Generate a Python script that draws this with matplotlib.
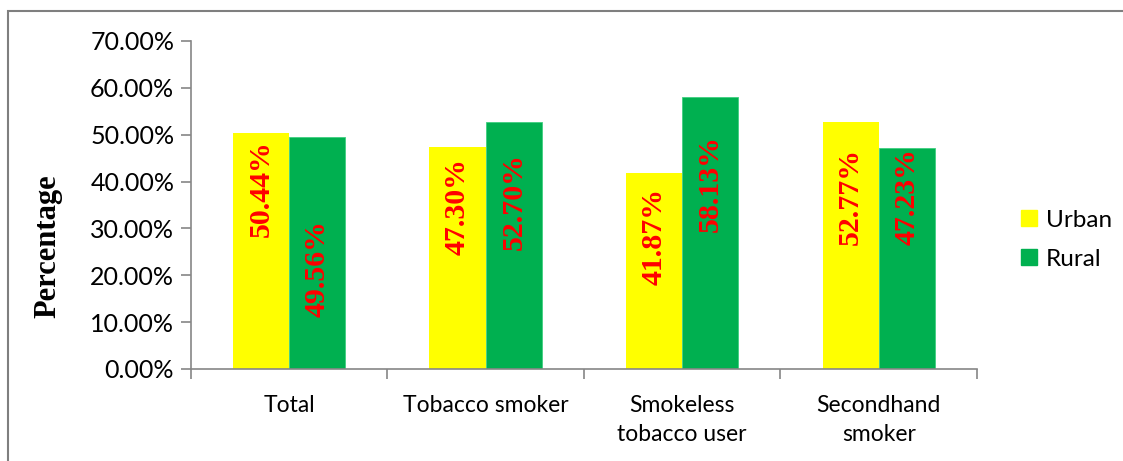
import matplotlib.pyplot as plt
from matplotlib.patches import Patch, Rectangle
import numpy as np

categories = ['Total', 'Tobacco smoker', 'Smokeless\ntobacco user', 'Secondhand\nsmoker']
urban = [50.44, 47.30, 41.87, 52.77]
rural = [49.56, 52.70, 58.13, 47.23]
series_names = ['Urban', 'Rural']
yticks = [0, 10, 20, 30, 40, 50, 60, 70]

# where the top of each (rotated) value label sits, data units, as placed in the original
urban_label_top = [48.9, 45.0, 38.6, 47.2]
rural_label_top = [31.8, 46.1, 49.9, 47.2]

YELLOW = '#FFFF00'
GREEN = '#00B050'
GRAY = '#868686'

fig = plt.figure(figsize=(11.23, 4.61), dpi=100)
ax = fig.add_axes([0.170, 0.1996, 0.700, 0.7115])

x = np.arange(len(categories))
w = 0.286
ax.bar(x - w / 2, urban, w, color=YELLOW, edgecolor='none')
ax.bar(x + w / 2, rural, w, color=GREEN, edgecolor='#3fcf80', linewidth=0.6)

lab_font = dict(family='Liberation Serif', weight='bold', size=21.5, color='red',
                rotation=90, ha='center', va='top')
for i in range(len(categories)):
    ax.text(x[i] - w / 2, urban_label_top[i], '%.2f%%' % urban[i], **lab_font)
    ax.text(x[i] + w / 2, rural_label_top[i], '%.2f%%' % rural[i], **lab_font)

ax.set_xlim(-0.5, len(categories) - 0.5)
ax.set_ylim(0, 70)
ax.set_yticks(yticks)
ax.set_yticklabels(['%.2f%%' % t for t in yticks], family='Lato', fontsize=18)
ax.tick_params(axis='y', length=7, width=1.2, color=GRAY, pad=5)

# boundaries as major ticks, names as minor ticks
ax.set_xticks(np.arange(len(categories) + 1) - 0.5)
ax.set_xticklabels([])
ax.tick_params(axis='x', which='major', length=7, width=1.2, color=GRAY)
ax.set_xticks(x, minor=True)
ax.set_xticklabels(categories, minor=True, family='Lato', fontsize=16.5, linespacing=1.45)
ax.tick_params(axis='x', which='minor', length=0, pad=19)

for s in ['top', 'right']:
    ax.spines[s].set_visible(False)
for s in ['left', 'bottom']:
    ax.spines[s].set_color(GRAY)
    ax.spines[s].set_linewidth(1.2)

fig.text(0.043, 0.465, 'Percentage', rotation=90, ha='center', va='center',
         family='Liberation Serif', weight='bold', fontsize=22)

handles = [Patch(color=YELLOW), Patch(color=GREEN)]
fig.legend(handles, series_names, loc='center left', bbox_to_anchor=(0.890, 0.48),
           frameon=False, prop={'family': 'Lato', 'size': 17.5},
           handlelength=0.65, handleheight=0.65, handletextpad=0.35, labelspacing=0.75)

# outer chart border (clipped on the right and bottom in the original)
fig.patches.append(Rectangle((0.007, -0.1), 1.1, 1.076, transform=fig.transFigure,
                             fill=False, edgecolor='#7f7f7f', linewidth=1.5))

fig.savefig('out.png', dpi=100, facecolor='white')
